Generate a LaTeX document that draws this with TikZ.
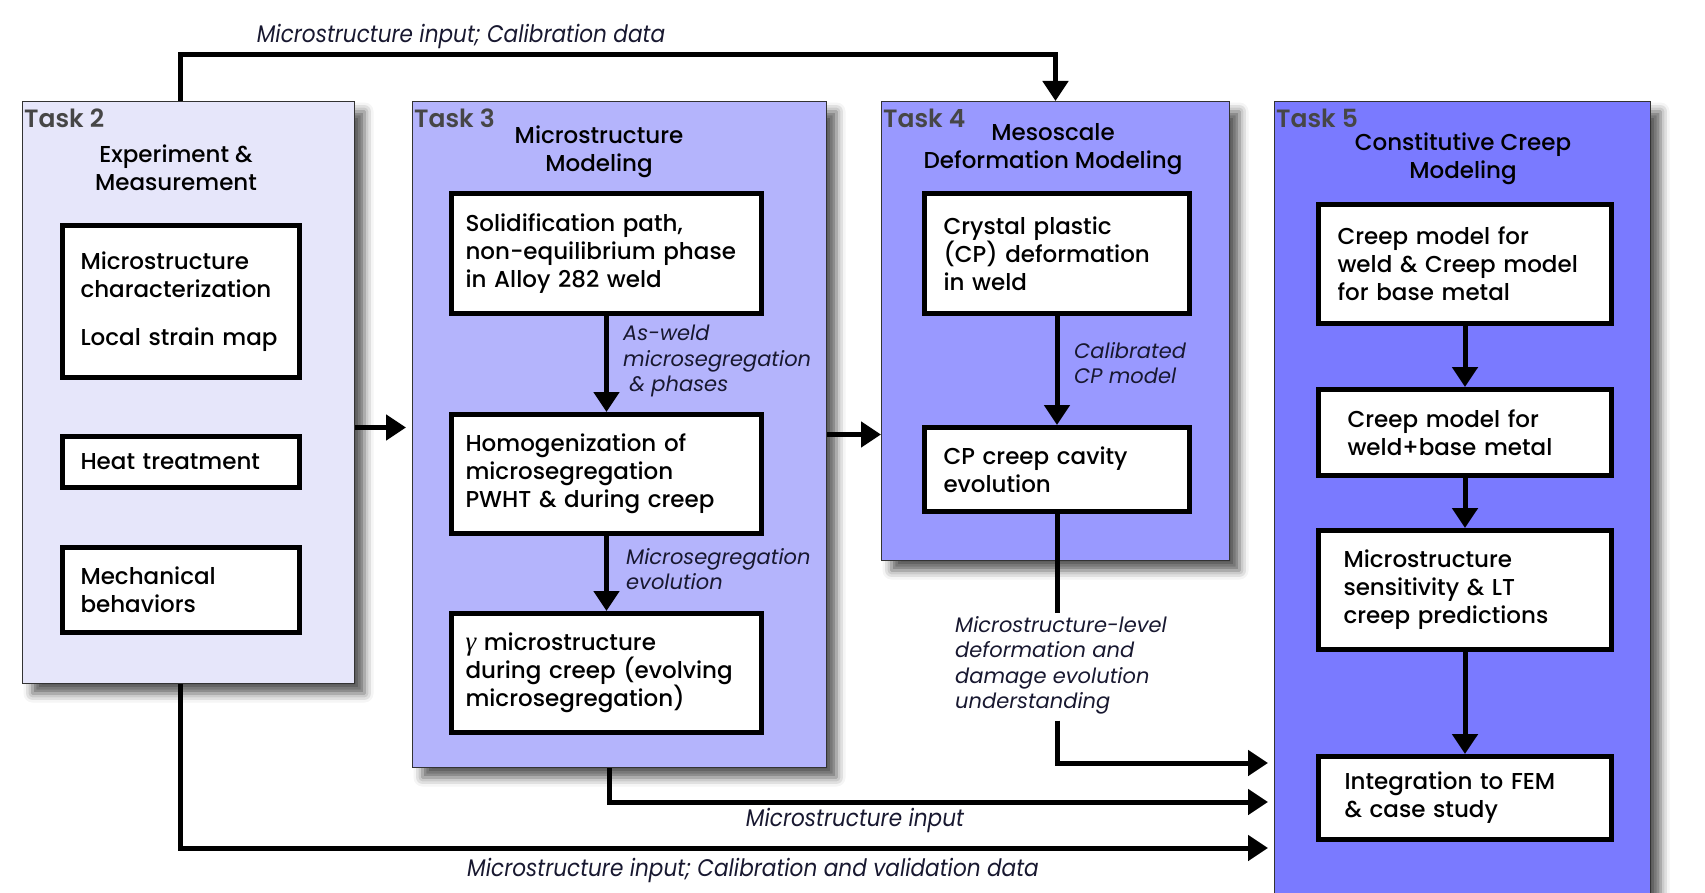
\documentclass[tikz,border=0pt]{standalone}
\usepackage{fontspec}
\setmainfont{Poppins}[UprightFont=* Medium, BoldFont=* SemiBold, ItalicFont=* Italic]
\newfontfamily\narrowfont[FakeStretch=0.9]{Poppins}
\newfontfamily\greekfont{Liberation Serif}
\usetikzlibrary{arrows.meta,shadows.blur}

\definecolor{taskA}{RGB}{230,230,250}
\definecolor{taskB}{RGB}{180,180,252}
\definecolor{taskC}{RGB}{153,153,255}
\definecolor{taskD}{RGB}{122,122,255}
\definecolor{numgray}{RGB}{70,70,70}
\definecolor{inkblue}{RGB}{24,24,48}

\tikzset{
  task/.style={draw=black!80, line width=1pt, anchor=north west, inner sep=0pt,
    blur shadow={shadow xshift=10pt, shadow yshift=-10pt, shadow blur radius=9pt, shadow opacity=65}},
  tasknum/.style={anchor=north west, inner xsep=2pt, inner ysep=8pt, text=numgray,
    font=\fontsize{25}{28}\selectfont\bfseries},
  tasktitle/.style={align=center, text=black, font=\fontsize{23}{28}\selectfont},
  item/.style={draw, line width=5pt, fill=white, anchor=north west, align=left,
    inner xsep=18pt, font=\fontsize{23}{28}\selectfont},
  flowlabel/.style={anchor=north west, align=left, inner sep=0pt, text=inkblue,
    font=\fontsize{21}{25.5}\selectfont\itshape},
  linklabel/.style={text=inkblue, font=\fontsize{24}{28}\narrowfont\itshape},
  wire/.style={line width=5pt},
  conn/.style={line width=5pt, -{Triangle[width=25pt,length=20pt]}},
  gap/.style={shorten >=6pt}
}

\begin{document}
\begin{tikzpicture}[x=1pt,y=-1pt]
  \useasboundingbox (0,0) rectangle (1705,893);

  % Task frames
  \node[task, fill=taskA, minimum width=332pt, minimum height=582pt] (t2) at (22,101) {};
  \node[task, fill=taskB, minimum width=414pt, minimum height=666pt] (t3) at (412,101) {};
  \node[task, fill=taskC, minimum width=348pt, minimum height=459pt] (t4) at (881,101) {};
  \node[task, fill=taskD, minimum width=376pt, minimum height=830pt] (t5) at (1274,101) {};

  \node[tasknum] (t2num) at (t2.north west) {Task 2};
  \node[tasknum] (t3num) at (t3.north west) {Task 3};
  \node[tasknum] (t4num) at (t4.north west) {Task 4};
  \node[tasknum] (t5num) at (t5.north west) {Task 5};

  \node[tasktitle] (t2title) at (176,168) {Experiment \&\\Measurement};
  \node[tasktitle] (t3title) at (599,152) {Microstructure\\Modeling};
  \node[tasktitle] (t4title) at (1053,149) {Mesoscale\\Deformation Modeling};
  \node[tasktitle] (t5title) at (1463,159) {Constitutive Creep\\Modeling};

  % Task 2
  \node[item, text width=201pt, minimum height=152pt] (charbox) at (60,223)
    {Microstructure\\characterization\\[20pt]Local strain map};
  \node[item, text width=201pt, minimum height=51pt] (heatbox) at (60,434) {Heat treatment};
  \node[item, text width=201pt, minimum height=85pt] (mechbox) at (60,545) {Mechanical\\behaviors};

  % Task 3
  \node[item, inner xsep=14pt, text width=282pt, minimum height=120pt] (solidbox) at (449,191)
    {Solidification path,\\non-equilibrium phase\\in Alloy 282 weld};
  \node[item, inner xsep=14pt, text width=282pt, minimum height=119pt] (homogbox) at (449,412)
    {Homogenization of\\microsegregation\\PWHT \& during creep};
  \node[item, inner xsep=14pt, text width=282pt, minimum height=119pt] (gammabox) at (449,611)
    {{\greekfont\itshape\fontsize{27}{28}\selectfont γ} microstructure\\during creep (evolving\\microsegregation)};

  % Task 4
  \node[item, inner xsep=19pt, text width=227pt, minimum height=120pt] (cpbox) at (922,191)
    {Crystal plastic\\(CP) deformation\\in weld};
  \node[item, inner xsep=19pt, text width=227pt, minimum height=84pt] (cavitybox) at (922,425)
    {CP creep cavity\\evolution};

  % Task 5
  \node[item, inner xsep=19pt, text width=255pt, minimum height=119pt] (creepbox) at (1316,202)
    {Creep model for\\weld \& Creep model\\for base metal};
  \node[item, inner xsep=29pt, text width=235pt, minimum height=86pt] (combbox) at (1316,387)
    {Creep model for\\weld+base metal};
  \node[item, inner xsep=25pt, text width=243pt, minimum height=119pt] (sensbox) at (1316,528)
    {Microstructure\\sensitivity \& LT\\creep predictions};
  \node[item, inner xsep=26pt, text width=241pt, minimum height=83pt] (fembox) at (1316,754)
    {Integration to FEM\\\& case study};

  % Labels on the arrows
  \node[flowlabel] (asweld) at (623,325) {As-weld\\microsegregation\\\ \& phases};
  \node[flowlabel] (seglabel) at (626,548) {Microsegregation\\evolution};
  \node[flowlabel] (calilabel) at (1074,342) {Calibrated\\CP model};
  \node[flowlabel] (dmglabel) at (955,616)
    {Microstructure-level\\deformation and\\damage evolution\\understanding};

  \node[linklabel] (toplab) at (461,36) {Microstructure input; Calibration data};
  \node[linklabel] (midlab) at (855,820) {Microstructure input};
  \node[linklabel] (botlab) at (753,870) {Microstructure input; Calibration and validation data};

  % Arrows inside the tasks
  \draw[conn] (solidbox) -- (homogbox);
  \draw[conn] (homogbox) -- (gammabox);
  \draw[conn] (cpbox) -- (cavitybox);
  \draw[conn] (creepbox) -- (combbox);
  \draw[conn] (combbox) -- (sensbox);
  \draw[conn] (sensbox) -- (fembox);

  % Arrows between the tasks
  \coordinate (topbend) at (180,55);
  \coordinate (dmgturn) at (1054,763);
  \coordinate (midturn) at (609,802);
  \coordinate (lowturn) at (180,848);

  \draw[conn] (t2.north -| topbend) -- (topbend) -| (t4.north);
  \draw[conn, gap] ([yshift=7pt]t3.west -| t2.east) -- ([yshift=7pt]t3.west);
  \draw[conn] (t3.east) -- (t3.east -| t4.west);
  \draw[wire] (cavitybox.south) -- ([yshift=3pt]cavitybox.south |- dmglabel.north);
  \draw[conn, gap] ([yshift=-6pt]cavitybox.south |- dmglabel.south) |- (t5.west |- dmgturn);
  \draw[conn, gap] (t3.south -| midturn) |- (t5.west |- midturn);
  \draw[conn, gap] (t2.south -| lowturn) |- (t5.west |- lowturn);
\end{tikzpicture}
\end{document}
